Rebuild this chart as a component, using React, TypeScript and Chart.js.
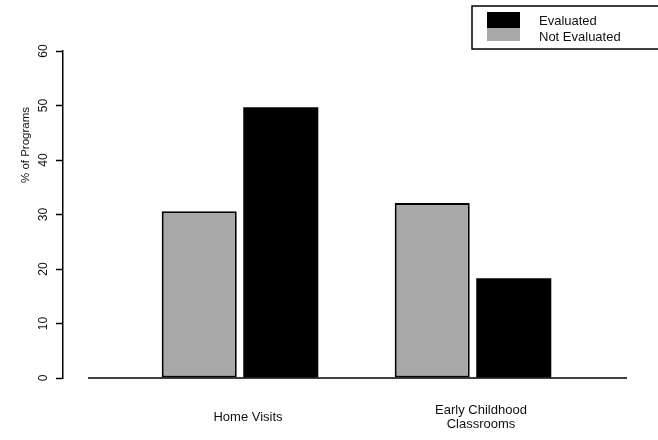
import React, { useEffect, useRef } from "react";
import { Chart, registerables } from "chart.js";

Chart.register(...registerables);

// ---- data ----
const CATEGORIES = ["Home Visits", "Early Childhood Classrooms"];
const X_LABELS: string[][] = [["Home Visits"], ["Early Childhood", "Classrooms"]];
const NOT_EVALUATED = [30.6, 32.1];
const EVALUATED = [49.7, 18.3];
const SERIES_NAMES = ["Not Evaluated", "Evaluated"];
const Y_MIN = 0;
const Y_MAX = 60;
const Y_STEP = 10;
const Y_TITLE = "% of Programs";

// ---- style ----
const FONT = "'Liberation Sans', Arial, Helvetica, sans-serif";
const INK = "#111";
const GRAY = "#a8a8a8";
const BLACK = "#000";

const decorPlugin = {
  id: "decor",
  afterDraw(chart: any) {
    const { ctx, chartArea, scales } = chart;
    const y0 = scales.y.getPixelForValue(Y_MIN);
    ctx.save();

    // baseline under the bars
    ctx.strokeStyle = BLACK;
    ctx.lineWidth = 1.5;
    ctx.beginPath();
    ctx.moveTo(chartArea.left + 25, y0);
    ctx.lineTo(chartArea.right, y0);
    ctx.stroke();

    // y axis title
    ctx.save();
    ctx.translate(26, 145);
    ctx.rotate(-Math.PI / 2);
    ctx.font = `11.5px ${FONT}`;
    ctx.fillStyle = INK;
    ctx.textAlign = "center";
    ctx.textBaseline = "middle";
    ctx.fillText(Y_TITLE, 0, 0);
    ctx.restore();

    // legend box (right side runs off the page)
    ctx.strokeStyle = BLACK;
    ctx.lineWidth = 1.5;
    ctx.beginPath();
    ctx.moveTo(720, 6);
    ctx.lineTo(472, 6);
    ctx.lineTo(472, 49);
    ctx.lineTo(720, 49);
    ctx.stroke();
    const ds = chart.data.datasets;
    const order = [1, 0];
    const swY = [12, 28];
    const swH = [16, 13];
    const txY = [21.5, 37];
    order.forEach((di: number, k: number) => {
      ctx.fillStyle = ds[di].backgroundColor;
      ctx.fillRect(487, swY[k], 33, swH[k]);
      ctx.fillStyle = INK;
      ctx.font = `13px ${FONT}`;
      ctx.textAlign = "left";
      ctx.textBaseline = "middle";
      ctx.fillText(ds[di].label, 539, txY[k]);
    });
    ctx.restore();
  },
};

export default function App() {
  const ref = useRef<HTMLCanvasElement>(null);

  useEffect(() => {
    if (!ref.current) return;
    const chart = new Chart(ref.current, {
      type: "bar",
      data: {
        datasets: [
          {
            label: SERIES_NAMES[0],
            data: CATEGORIES.map((_, i) => ({ x: i, y: NOT_EVALUATED[i] })),
            backgroundColor: GRAY,
            borderColor: BLACK,
            borderWidth: 2,
            borderSkipped: false,
          },
          {
            label: SERIES_NAMES[1],
            data: CATEGORIES.map((_, i) => ({ x: i, y: EVALUATED[i] })),
            backgroundColor: BLACK,
            borderColor: BLACK,
            borderWidth: 0,
          },
        ],
      },
      options: {
        responsive: false,
        animation: false,
        layout: { padding: { top: 51, right: 31, bottom: 0, left: 0 } },
        datasets: {
          bar: { categoryPercentage: 0.7, barPercentage: 0.92 },
        },
        plugins: {
          legend: { display: false },
          tooltip: { enabled: false },
          title: { display: false },
        },
        scales: {
          x: {
            type: "linear",
            offset: false,
            bounds: "data",
            min: -0.7597,
            max: 1.661,
            grid: { display: false, drawTicks: false, offset: false },
            border: { display: false },
            afterBuildTicks: (axis: any) => {
              axis.ticks = CATEGORIES.map((_, i) => ({ value: i }));
            },
            afterFit: (scale: any) => {
              scale.height = 62;
            },
            ticks: {
              autoSkip: false,
              minRotation: 0,
              maxRotation: 0,
              padding: 32,
              labelOffset: 8,
              crossAlign: "center",
              color: INK,
              font: { family: FONT, size: 13, lineHeight: 1.115 },
              callback: (value: any) => X_LABELS[Number(value)] ?? "",
            },
          },
          y: {
            type: "linear",
            min: Y_MIN,
            max: Y_MAX,
            grid: {
              display: true,
              drawOnChartArea: false,
              drawTicks: true,
              tickLength: 7,
              tickWidth: 1.5,
              tickColor: BLACK,
            },
            border: { display: true, color: BLACK, width: 1.5 },
            afterFit: (scale: any) => {
              scale.width = 63;
            },
            ticks: {
              stepSize: Y_STEP,
              minRotation: 90,
              maxRotation: 90,
              crossAlign: "center",
              padding: 6,
              color: INK,
              font: { family: FONT, size: 12 },
            },
          },
        },
      } as any,
      plugins: [decorPlugin],
    });
    return () => chart.destroy();
  }, []);

  return (
    <canvas
      ref={ref}
      width={658}
      height={440}
      style={{ position: "absolute", left: 0, top: 0, width: 658, height: 440 }}
    />
  );
}
